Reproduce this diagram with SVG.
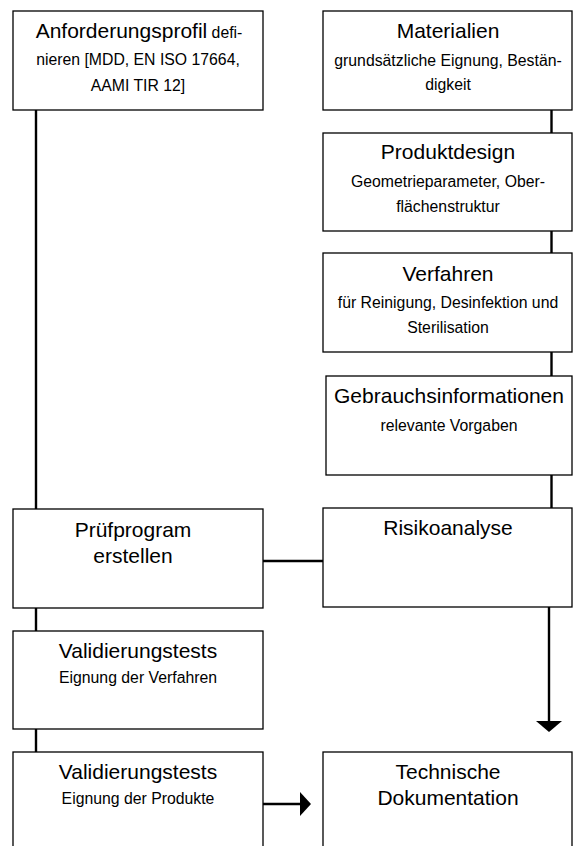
<svg xmlns="http://www.w3.org/2000/svg" width="573" height="846" viewBox="0 0 573 846">
<style>
rect{fill:#fff;stroke:#000;stroke-width:1.3}
text{font-family:"Liberation Sans",Arial,sans-serif;fill:#000;text-anchor:middle}
.t{font-size:21px}
.s{font-size:15.8px}
.c line{stroke:#000;stroke-width:2.4}
.c polygon{fill:#000}
</style>
<rect x="0" y="0" width="573" height="846" style="stroke:none"/>
<g class="c" id="connectors">
<line x1="36" y1="110" x2="36" y2="509"/>
<line x1="36" y1="608" x2="36" y2="631"/>
<line x1="36" y1="729" x2="36" y2="752"/>
<line x1="551.5" y1="110" x2="551.5" y2="133"/>
<line x1="551.5" y1="231" x2="551.5" y2="253"/>
<line x1="551.5" y1="352" x2="551.5" y2="376"/>
<line x1="551.5" y1="475" x2="551.5" y2="508"/>
<line x1="263" y1="561" x2="323" y2="561"/>
<line x1="549" y1="607" x2="549" y2="722"/>
<polygon points="536,721 562,721 549,732"/>
<line x1="263" y1="804" x2="301" y2="804"/>
<polygon points="300,792 300,816 311,804"/>
</g>
<g id="anforderungsprofil"><rect x="13" y="11" width="250" height="99"/>
<text x="139" y="38"><tspan class="t">Anforderungsprofil</tspan><tspan class="s"> defi-</tspan></text>
<text class="s" x="138" y="65">nieren [MDD, EN ISO 17664,</text>
<text class="s" x="138" y="91">AAMI TIR 12]</text></g>
<g id="materialien"><rect x="323" y="11" width="249" height="99"/>
<text class="t" x="448" y="38">Materialien</text>
<text class="s" x="448" y="66">grundsätzliche Eignung, Bestän-</text>
<text class="s" x="448" y="90">digkeit</text></g>
<g id="produktdesign"><rect x="323" y="133" width="249" height="98"/>
<text class="t" x="448" y="159">Produktdesign</text>
<text class="s" x="448" y="187">Geometrieparameter, Ober-</text>
<text class="s" x="448" y="212">flächenstruktur</text></g>
<g id="verfahren"><rect x="323" y="253" width="249" height="99"/>
<text class="t" x="448" y="281">Verfahren</text>
<text class="s" x="448" y="308">für Reinigung, Desinfektion und</text>
<text class="s" x="448" y="333">Sterilisation</text></g>
<g id="gebrauchsinformationen"><rect x="326" y="376" width="246" height="99"/>
<text class="t" x="449" y="403">Gebrauchsinformationen</text>
<text class="s" x="449" y="431">relevante Vorgaben</text></g>
<g id="risikoanalyse"><rect x="323" y="508" width="249" height="99"/>
<text class="t" x="448" y="535">Risikoanalyse</text></g>
<g id="pruefprogram"><rect x="13" y="509" width="250" height="99"/>
<text class="t" x="133" y="537">Prüfprogram</text>
<text class="t" x="133" y="563">erstellen</text></g>
<g id="validierung1"><rect x="13" y="631" width="250" height="98"/>
<text class="t" x="138" y="658">Validierungstests</text>
<text class="s" x="138" y="683">Eignung der Verfahren</text></g>
<g id="validierung2"><rect x="13" y="752" width="250" height="100"/>
<text class="t" x="138" y="779">Validierungstests</text>
<text class="s" x="138" y="804">Eignung der Produkte</text></g>
<g id="technische"><rect x="323" y="752" width="249" height="100"/>
<text class="t" x="448" y="779">Technische</text>
<text class="t" x="448" y="805">Dokumentation</text></g>
</svg>
